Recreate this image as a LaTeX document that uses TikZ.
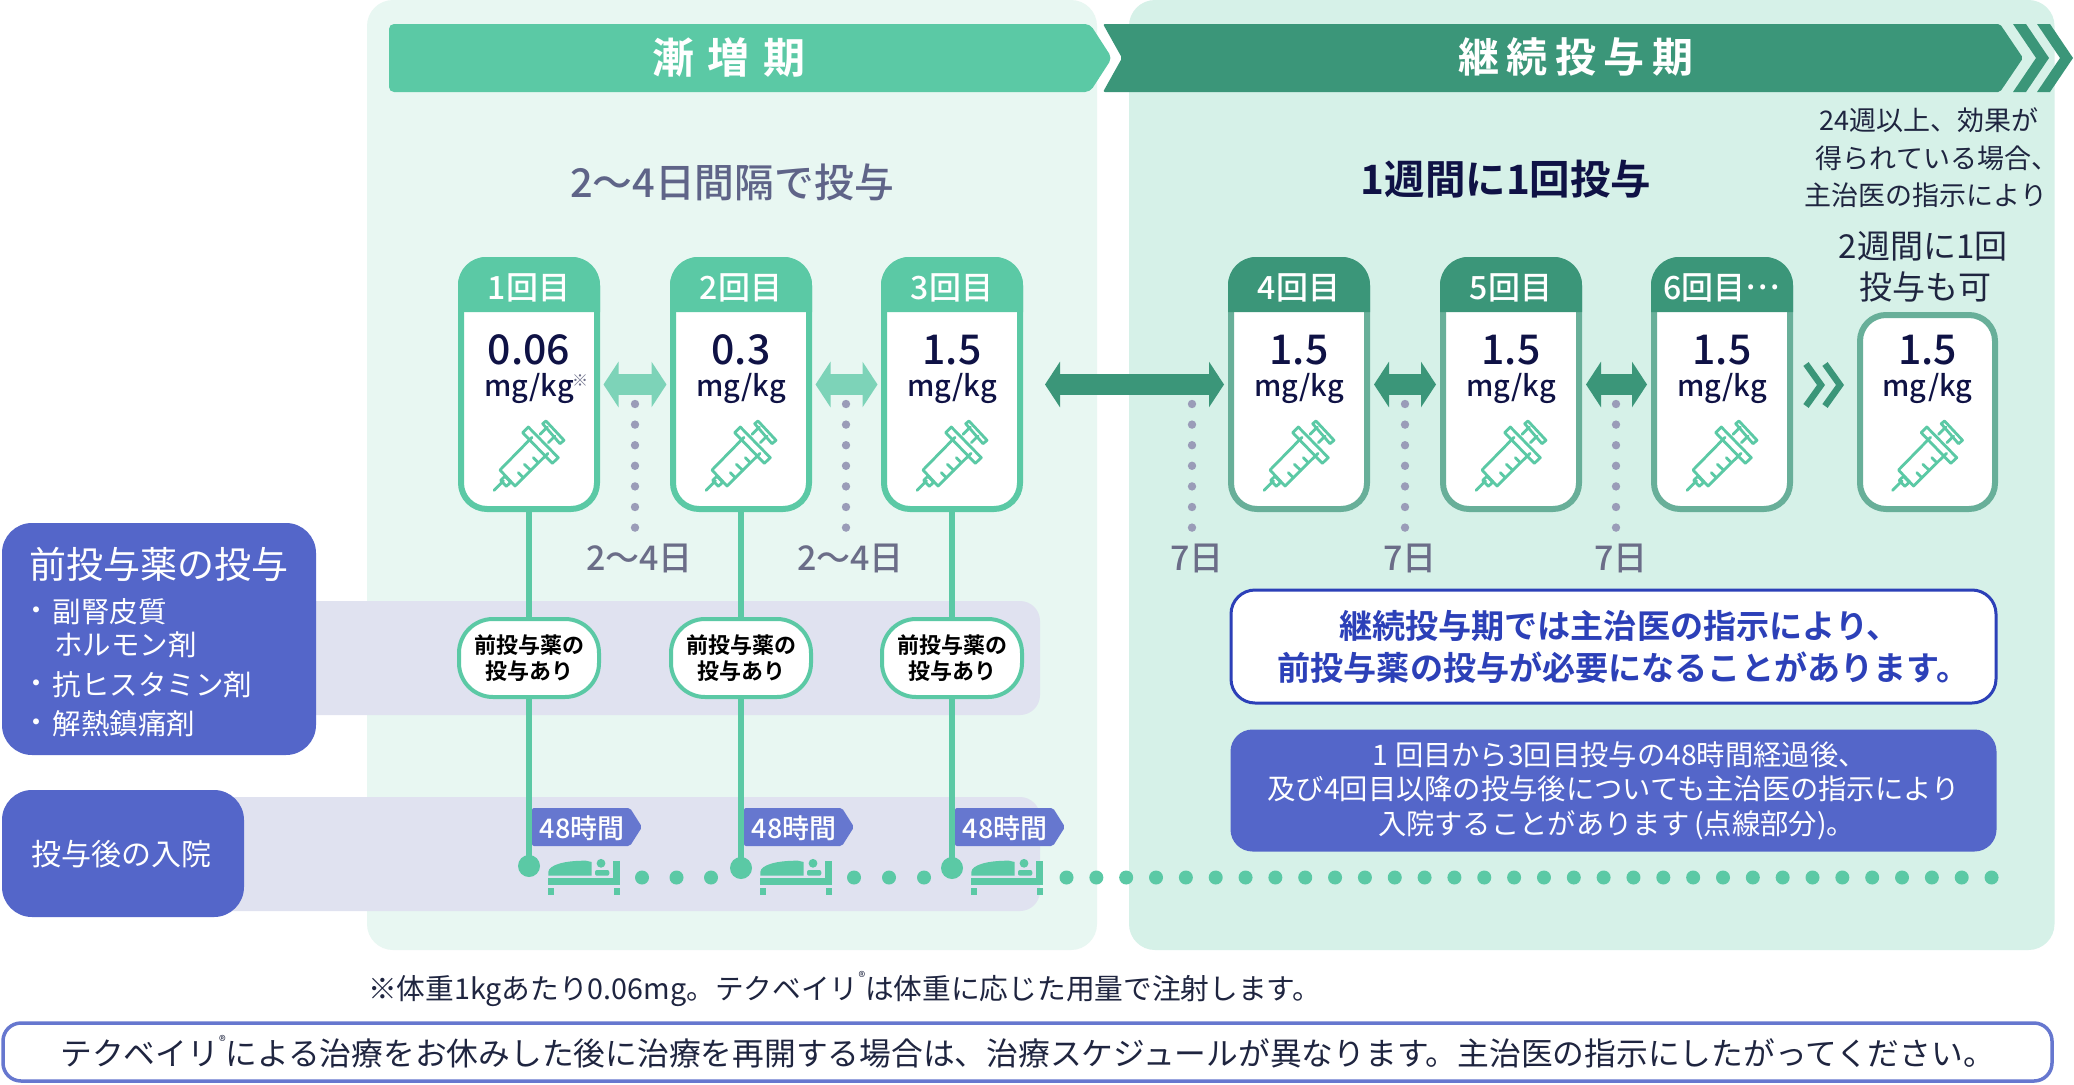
\documentclass[tikz,border=0pt]{standalone}
\usepackage{fontspec}
\setmainfont{Noto Sans CJK JP}
\newfontfamily\jpmed{Noto Sans CJK JP Medium}
\newfontfamily\jpbold{Noto Sans CJK JP Bold}
\usetikzlibrary{arrows.meta}
\definecolor{lightgreen}{HTML}{5BC9A5}
\definecolor{darkgreen}{HTML}{3B9679}
\definecolor{darkborder}{HTML}{68AF99}
\definecolor{arrowgreen}{HTML}{7DD3B8}
\definecolor{panelone}{HTML}{E8F7F2}
\definecolor{paneltwo}{HTML}{D6F1E8}
\definecolor{bandc}{HTML}{E0E2F0}
\definecolor{purple}{HTML}{5466C9}
\definecolor{tagc}{HTML}{6677CF}
\definecolor{royal}{HTML}{2C40B8}
\definecolor{navy}{HTML}{0F1245}
\definecolor{slate}{HTML}{5F6488}
\definecolor{grayt}{HTML}{6B6D88}
\definecolor{dotc}{HTML}{9A9CB8}
\definecolor{bodyt}{HTML}{1F2540}
\newcommand\fsz[1]{\fontsize{#1}{#1}\selectfont}
\tikzset{
  txt/.style={inner sep=0pt,outer sep=0pt,align=center},
  cardbox/.style={draw,line width=6pt,fill=white,inner sep=0pt,outer sep=0pt,rounded corners=26pt,minimum width=136pt},
  pillbox/.style={draw=lightgreen,line width=4pt,fill=white,inner sep=0pt,outer sep=0pt,rounded corners=34pt,minimum width=140pt,minimum height=78pt,font=\jpbold\fontsize{22}{26.5}\selectfont,text=black,align=center},
  vline/.style={draw=lightgreen,line width=6pt},
  dblarrow/.style={line width=21pt,{Triangle[length=15pt,width=45pt]}-{Triangle[length=15pt,width=45pt]}},
  synstroke/.style={draw=lightgreen,line width=2.8pt,line join=round,line cap=round},
  chev/.style={draw=darkgreen,line width=6.5pt,line join=miter},
  graydot/.style={fill=dotc},
  greendot/.style={fill=lightgreen},
  headlabel/.style={txt,text=white,font=\jpmed\fsz{32}},
  doselabel/.style={txt,text=navy,font=\jpmed\fsz{41}},
  unitlabel/.style={txt,text=navy,font=\jpmed\fsz{29}},
  gaplabel/.style={txt,text=grayt,font=\jpmed\fsz{34}},
  taglabel/.style={txt,text=white,font=\jpmed\fsz{27}},
  listlabel/.style={txt,text=white,anchor=west,font=\fsz{28.5}},
}
\newcommand\syringe[1]{%
  \begin{scope}[shift={(#1,456)}]
    \draw[synstroke] (-35,34.3) -- (-25.5,25);
    \draw[synstroke] (-28.3,24.3) -- (-24,20.3) -- (-18.3,26.3) -- (-22.7,30.3) -- cycle;
    \draw[synstroke] (3,-18.7) -- (-29,14) -- (-14,30) -- (19,-2.7);
    \draw[synstroke] (-6.3,-23.3) -- (-.7,-29) -- (29.3,1.7) -- (23.3,7.3) -- cycle;
    \draw[synstroke] (11,-21.7) -- (18.3,-29) (19.3,-13.3) -- (26,-20);
    \draw[synstroke] (13.7,-32.3) -- (17,-35) -- (35,-15.7) -- (31,-12.3) -- cycle;
    \draw[synstroke] (-10.7,16.7) -- (-5.7,21.7) (-4.7,8.3) -- (1.7,14.3) (4.3,1.7) -- (9,6.3);
  \end{scope}}
% name, cx, label, dose, header colour, border colour
\newcommand\card[6]{%
  \node[cardbox,draw=#6,minimum height=249pt] (#1) at (#2,384.5) {};
  \fill[#5] (#2-71,312) [rounded corners=28pt] -- (#2-71,257) -- (#2+71,257) [sharp corners] -- (#2+71,312) -- cycle;
  \node[headlabel] (#1head) at (#2,288) {#3};
  \node[doselabel] (#1dose) at (#2,350) {#4};
  \node[unitlabel] (#1unit) at (#2,388) {mg/kg};
  \syringe{#2}}
\newcommand\bed[1]{%
  \begin{scope}[shift={(#1,0)}]
    \fill[lightgreen] (19.3,878.3) rectangle (91,885);
    \fill[lightgreen] (83.7,860.7) rectangle (91,885);
    \fill[lightgreen] (19.3,887.7) rectangle (25,895);
    \fill[lightgreen] (85.3,887.7) rectangle (91,895);
    \fill[lightgreen] (19.3,875.7) -- (19.3,872) .. controls (20,865) and (35,860.5) .. (57,860.7) -- (62.7,862) -- (62.7,875.7) -- cycle;
    \fill[lightgreen,rounded corners=2pt] (66,870) rectangle (80.3,875.7);
    \fill[lightgreen] (72,863.3) circle (4.4);
  \end{scope}}
\newcommand\dotcol[1]{\foreach \yy in {404,424.6,445.2,465.8,486.4,507,527.6} \fill[graydot] (#1,\yy) circle (4.2);}
\begin{document}
\begin{tikzpicture}[x=1pt,y=-1pt]
\useasboundingbox (0,0) rectangle (2074,1084);
\fill[white] (0,0) rectangle (2074,1084);
% panels
\fill[panelone,rounded corners=26pt] (367,0) rectangle (1097,950);
\fill[paneltwo,rounded corners=26pt] (1129,0) rectangle (2054.5,950);
% banners
\fill[lightgreen,rounded corners=5pt] (389,24) -- (1090,24) -- (1112,58) -- (1090,92) -- (389,92) -- cycle;
\fill[darkgreen,rounded corners=2pt] (1103,24) -- (2000,24) -- (2023,58) -- (2000,92) -- (1103,92) -- (1122,58) -- cycle;
\fill[darkgreen] (2013,24) -- (2026,24) -- (2049,58) -- (2026,92) -- (2013,92) -- (2036,58) -- cycle;
\fill[darkgreen] (2037,24) -- (2050,24) -- (2073,58) -- (2050,92) -- (2037,92) -- (2060,58) -- cycle;
\node[txt,text=white,font=\jpbold\fsz{42}] (phaseone) at (729,57) {漸\hspace{14pt}増\hspace{14pt}期};
\node[txt,text=white,font=\jpbold\fsz{41}] (phasetwo) at (1576,57) {継\hspace{7.5pt}続\hspace{7.5pt}投\hspace{7.5pt}与\hspace{7.5pt}期};
\node[txt,text=slate,font=\jpmed\fsz{39.8}] (intervalone) at (732,182) {2〜4日間隔で投与};
\node[txt,text=navy,font=\jpbold\fsz{40.5}] (intervaltwo) at (1506,179) {1週間に1回投与};
\node[txt,text=bodyt,font=\fontsize{27}{37.5}\selectfont] (noteweeks) at (1926,158) {\hspace*{6pt}24週以上、効果が\\\hspace*{22pt}得られている場合、\\主治医の指示により};
\node[txt,text=bodyt,font=\fontsize{33}{41}\selectfont] (notebiweek) at (1923,267) {2週間に1回\\\hspace*{4pt}投与も可};
% bands
\fill[bandc,rounded corners=20pt] (250,601) rectangle (1040,715);
\fill[bandc,rounded corners=20pt] (200,797) rectangle (1040,911);
% left boxes
\fill[purple,rounded corners=30pt] (2,523) rectangle (316,755);
\fill[purple,rounded corners=30pt] (2,790) rectangle (244,917);
\node[txt,text=white,anchor=west,font=\fsz{37}] (premed) at (29,564) {前投与薬の投与};
\node[txt,text=white,font=\fsz{28}] (b1) at (36,614) {・};
\node[listlabel] (l1) at (52.5,612) {副腎皮質};
\node[listlabel] (l1b) at (54,645) {ホルモン剤};
\node[txt,text=white,font=\fsz{28}] (b2) at (36,687) {・};
\node[listlabel] (l2) at (52.5,685) {抗ヒスタミン剤};
\node[txt,text=white,font=\fsz{28}] (b3) at (36,726) {・};
\node[listlabel] (l3) at (52.5,724) {解熱鎮痛剤};
\node[txt,text=white,anchor=west,font=\fsz{30}] (hosp) at (31,854) {投与後の入院};
% dotted gap lines
\dotcol{635}\dotcol{846}\dotcol{1192}\dotcol{1405}\dotcol{1616}
% cards
\card{cardone}{529}{1回目}{0.06}{lightgreen}{lightgreen}
\card{cardtwo}{741}{2回目}{0.3}{lightgreen}{lightgreen}
\card{cardthree}{952}{3回目}{1.5}{lightgreen}{lightgreen}
\card{cardfour}{1299}{4回目}{1.5}{darkgreen}{darkborder}
\card{cardfive}{1511}{5回目}{1.5}{darkgreen}{darkborder}
\card{cardsix}{1722}{6回目\raisebox{.32em}{…}}{1.5}{darkgreen}{darkborder}
\node[cardbox,draw=darkborder,minimum height=194pt,minimum width=135pt] (cardseven) at (1927.5,412) {};
\node[doselabel] (cardsevendose) at (1927.5,350) {1.5};
\node[unitlabel] (cardsevenunit) at (1927.5,388) {mg/kg};
\syringe{1927.5}
\node[txt,text=grayt,font=\fsz{16}] (refmark) at (580,381) {※};
% double arrows between cards
\draw[dblarrow,draw=arrowgreen,fill=arrowgreen] ([xshift=6.5pt]cardone.east) -- ([xshift=-6.5pt]cardtwo.west);
\draw[dblarrow,draw=arrowgreen,fill=arrowgreen] ([xshift=6.5pt]cardtwo.east) -- ([xshift=-6.5pt]cardthree.west);
\draw[dblarrow,draw=darkgreen,fill=darkgreen] ([xshift=25pt]cardthree.east) -- ([xshift=-7pt]cardfour.west);
\draw[dblarrow,draw=darkgreen,fill=darkgreen] ([xshift=7pt]cardfour.east) -- ([xshift=-7pt]cardfive.west);
\draw[dblarrow,draw=darkgreen,fill=darkgreen] ([xshift=7pt]cardfive.east) -- ([xshift=-7pt]cardsix.west);
\draw[chev] (1806,364) -- (1821,385) -- (1806,406);
\draw[chev] (1825,364) -- (1840,385) -- (1825,406);
% gap labels
\node[gaplabel] (gapone) at (639.5,558) {2〜4日};
\node[gaplabel] (gaptwo) at (850.5,558) {2〜4日};
\node[gaplabel] (gapthree) at (1197,558) {7日};
\node[gaplabel] (gapfour) at (1410,558) {7日};
\node[gaplabel] (gapfive) at (1621,558) {7日};
% pills, dots, tags, beds
\foreach \nm/\cx/\cd/\dy in {one/529/cardone/866,two/741/cardtwo/868,three/952/cardthree/868}{
  \node[pillbox] (pill\nm) at (\cx,658) {前投与薬の\\投与あり};
  \fill[tagc,rounded corners=2pt] (\cx+3,808) -- (\cx+101,808) -- (\cx+113,827) -- (\cx+101,846) -- (\cx+3,846) -- cycle;
  \node[taglabel] (tag\nm) at (\cx+53,828) {48時間};
  \node[circle,fill=lightgreen,inner sep=0pt,outer sep=0pt,minimum size=22pt] (dot\nm) at (\cx,\dy) {};
  \draw[vline] (\cd.south) -- (pill\nm.north);
  \draw[vline] (pill\nm.south) -- (dot\nm.center);
  \bed{\cx}
}
\foreach \xx in {642,676.5,711,854,889,924} \fill[greendot] (\xx,877.5) circle (7);
\foreach \i in {0,...,31} \fill[greendot] (1066.5+29.84*\i,877.5) circle (7);
% right boxes
\node[draw=royal,line width=3pt,fill=white,rounded corners=24pt,inner sep=0pt,outer sep=0pt,minimum width=765pt,minimum height=113pt,text=royal,font=\jpbold\fontsize{33.1}{42}\selectfont,align=center] (contbox) at (1613.5,646.5) {\hspace*{12pt}継続投与期では主治医の指示により、\\\hspace*{20pt}前投与薬の投与が必要になることがあります。};
\node[fill=purple,rounded corners=22pt,inner sep=0pt,outer sep=0pt,minimum width=766pt,minimum height=122pt,text=white,font=\fontsize{28.3}{34.5}\selectfont,align=center] (hospbox) at (1613.5,790.5) {\hspace*{12pt}1\hspace{7pt}回目から3回目投与の48時間経過後、\\及び4回目以降の投与後についても主治医の指示により\\\hspace*{6pt}入院することがあります\hspace{5pt}(点線部分)。};
% footer
\node[txt,text=bodyt,anchor=west,font=\fsz{28.7}] (footnote) at (368,989) {※体重1kgあたり0.06mg。テクベイリ\raisebox{.6em}{\fsz{14}®}は体重に応じた用量で注射します。};
\node[draw=tagc,line width=3.5pt,fill=white,rounded corners=18pt,inner sep=0pt,outer sep=0pt,minimum width=2049pt,minimum height=58pt,text=bodyt,font=\fsz{31.75}] (bottombox) at (1027.5,1052) {テクベイリ\raisebox{.6em}{\fsz{14}®}による治療をお休みした後に治療を再開する場合は、治療スケジュールが異なります。主治医の指示にしたがってください。};
\end{tikzpicture}
\end{document}
